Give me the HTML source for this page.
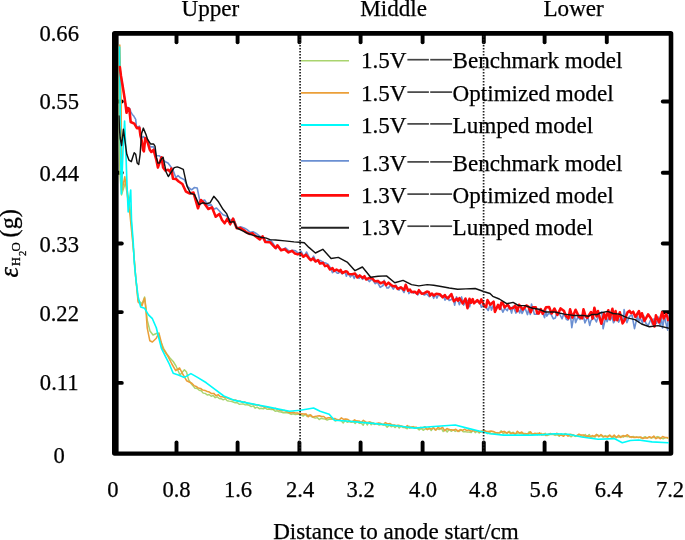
<!DOCTYPE html><html><head><meta charset="utf-8"><style>html,body{margin:0;padding:0;background:#fff;overflow:hidden}svg{display:block;will-change:transform}</style></head><body><svg width="685" height="540" viewBox="0 0 685 540">
<rect width="685" height="540" fill="#fff"/>
<path d="M114.6 31H670.6999999999999A2.6 2.6 0 0 1 673.3 33.6V453.09999999999997A2.6 2.6 0 0 1 670.6999999999999 455.7H114.6A2.6 2.6 0 0 1 112 453.09999999999997V33.6A2.6 2.6 0 0 1 114.6 31ZM118.6 35.7V451.6H668.7V35.7Z" fill="#000" fill-rule="evenodd"/>
<g stroke="#000" stroke-linecap="round" fill="none" stroke-width="3.9">
<line x1="176.5" y1="35" x2="176.5" y2="42.2"/>
<line x1="176.5" y1="452" x2="176.5" y2="442.4"/>
<line x1="237.6" y1="35" x2="237.6" y2="42.2"/>
<line x1="237.6" y1="452" x2="237.6" y2="442.4"/>
<line x1="299.4" y1="35" x2="299.4" y2="42.2"/>
<line x1="299.4" y1="452" x2="299.4" y2="442.4"/>
<line x1="360.6" y1="35" x2="360.6" y2="42.2"/>
<line x1="360.6" y1="452" x2="360.6" y2="442.4"/>
<line x1="422.6" y1="35" x2="422.6" y2="42.2"/>
<line x1="422.6" y1="452" x2="422.6" y2="442.4"/>
<line x1="483.8" y1="35" x2="483.8" y2="42.2"/>
<line x1="483.8" y1="452" x2="483.8" y2="442.4"/>
<line x1="544.6" y1="35" x2="544.6" y2="42.2"/>
<line x1="544.6" y1="452" x2="544.6" y2="442.4"/>
<line x1="606.8" y1="35" x2="606.8" y2="42.2"/>
<line x1="606.8" y1="452" x2="606.8" y2="442.4"/>
<line x1="118" y1="101.5" x2="121.8" y2="101.5"/>
<line x1="669" y1="101.5" x2="662.8" y2="101.5"/>
<line x1="118" y1="172.7" x2="121.8" y2="172.7"/>
<line x1="669" y1="172.7" x2="662.8" y2="172.7"/>
<line x1="118" y1="243.5" x2="121.8" y2="243.5"/>
<line x1="669" y1="243.5" x2="662.8" y2="243.5"/>
<line x1="118" y1="312.1" x2="121.8" y2="312.1"/>
<line x1="669" y1="312.1" x2="662.8" y2="312.1"/>
<line x1="118" y1="382.9" x2="121.8" y2="382.9"/>
<line x1="669" y1="382.9" x2="662.8" y2="382.9"/>
</g>
<defs><clipPath id="pc"><rect x="118.3" y="35.5" width="550.6" height="416.3"/></clipPath></defs>
<g fill="none" stroke-linejoin="round" stroke-linecap="round" clip-path="url(#pc)">
<path d="M119.3 46.0L119.0 100.0L119.3 150.0L120.0 175.0L121.5 195.0L125.7 181.7L129.8 205.0L132.0 230.0L133.5 250.0L135.6 276.0L138.1 300.0L142.0 304.0L144.6 297.0L145.9 307.0L147.2 320.0L150.0 331.0L153.0 335.0L157.6 333.0L160.0 340.0L164.0 349.0L166.7 353.7L170.0 358.0L173.2 361.5L176.0 366.0L180.0 375.0L184.4 369.7L186.5 372.0L188.7 380.0L191.2 383.7L193.2 386.1L195.2 388.4L197.2 388.5L199.2 390.3L201.2 390.7L203.2 393.1L205.2 393.4L207.2 395.0L209.2 394.5L211.2 396.3L213.2 395.4L215.2 397.7L217.2 396.8L219.2 398.5L221.2 398.7L223.2 399.8L225.2 398.8L227.2 400.7L229.2 401.1L231.2 401.4L233.2 402.0L235.2 402.8L237.2 402.7L239.2 404.3L241.2 404.1L243.2 403.9L245.2 404.9L247.2 404.8L249.2 405.3L251.2 406.6L253.2 405.8L255.2 408.2L257.2 407.2L259.2 408.7L261.2 408.2L263.2 408.9L265.2 408.0L267.2 409.3L269.2 409.1L271.2 409.6L273.2 409.6L275.2 411.3L277.2 410.8L279.2 411.9L281.2 412.0L283.2 412.7L285.2 412.5L287.2 412.8L289.2 413.4L291.2 414.4L293.2 413.7L295.2 414.5L297.2 414.3L299.2 414.3L301.2 414.6L303.2 416.1L305.2 414.3L307.2 416.6L309.2 414.8L311.2 416.5L313.2 417.4L315.2 418.1L317.2 417.6L319.2 419.6L321.2 418.2L323.2 418.8L325.2 419.0L327.2 420.1L329.2 419.1L331.2 419.3L333.2 418.5L335.2 421.0L337.2 420.0L339.2 420.4L341.2 420.8L343.2 423.0L345.2 420.3L347.2 422.3L349.2 421.5L351.2 422.3L353.2 421.4L355.2 423.5L357.2 421.0L359.2 423.4L361.2 423.1L363.2 425.2L365.2 421.5L367.2 425.0L369.2 421.9L371.2 424.8L373.2 422.8L375.2 423.9L377.2 423.8L379.2 425.1L381.2 424.3L383.2 424.9L385.2 424.9L387.2 427.2L389.2 425.2L391.2 426.8L393.2 425.8L395.2 427.6L397.2 425.3L399.2 428.1L401.2 426.1L403.2 427.6L405.2 427.4L407.2 428.8L409.2 426.3L411.2 427.7L413.2 426.5L415.2 428.3L417.2 428.2L419.2 430.0L421.2 428.5L423.2 430.3L425.2 428.8L427.2 429.4L429.2 427.6L431.2 430.6L433.2 427.5L435.2 430.0L437.2 428.5L439.2 429.6L441.2 428.0L443.2 431.6L445.2 429.5L447.2 432.0L449.2 429.3L451.2 431.3L453.2 429.8L455.2 431.4L457.2 430.4L459.2 431.5L461.2 429.8L463.2 431.8L465.2 431.6L467.2 432.1L469.2 432.0L471.2 432.6L473.2 429.8L475.2 432.7L477.2 431.1L479.2 433.0L481.2 430.9L483.2 431.6L485.2 430.9L487.2 433.7L489.2 432.1L491.2 433.6L493.2 433.3L495.2 433.4L497.2 432.6L499.2 432.9L501.2 430.8L503.2 433.7L505.2 432.3L507.2 433.5L509.2 431.2L511.2 433.3L513.2 432.2L515.2 433.9L517.2 433.3L519.2 432.9L521.2 433.7L523.2 433.5L525.2 433.4L527.2 434.5L529.2 431.8L531.2 434.1L533.2 433.7L535.2 434.1L537.2 433.2L539.2 434.7L541.2 433.3L543.2 434.9L545.2 433.2L547.2 435.5L549.2 434.8L551.2 434.4L553.2 434.4L555.2 435.4L557.2 434.7L559.2 436.2L561.2 433.8L563.2 435.5L565.2 433.5L567.2 434.9L569.2 435.7L571.2 436.8L573.2 435.2L575.2 436.4L577.2 435.4L579.2 436.2L581.2 435.5L583.2 436.9L585.2 434.4L587.2 436.8L589.2 434.5L591.2 437.6L593.2 436.6L595.2 437.0L597.2 434.7L599.2 435.9L601.2 435.7L603.2 437.3L605.2 435.6L607.2 436.4L609.2 435.4L611.2 436.9L613.2 437.2L615.2 436.5L617.2 436.9L619.2 437.2L621.2 436.1L623.2 437.2L625.2 435.7L627.2 436.8L629.2 436.3L631.2 437.5L633.2 436.4L635.2 437.6L637.2 437.2L639.2 437.2L641.2 438.1L643.2 437.6L645.2 436.7L647.2 438.1L649.2 437.3L651.2 438.2L653.2 437.2L655.2 437.8L657.2 436.6L659.2 437.2L661.2 438.1L663.2 438.8L665.2 437.6L667.2 437.9L668.0 438.2" stroke="#a9d46e" stroke-width="1.45"/>
<path d="M119.8 45.0L121.1 100.0L121.5 150.0L121.8 170.0L122.2 190.0L124.8 176.7L126.0 186.0L128.0 200.0L130.0 215.0L132.0 235.0L133.5 250.0L135.6 276.0L138.1 301.9L142.0 305.7L144.6 298.0L145.9 309.6L147.2 327.8L149.8 340.7L152.4 342.0L156.3 338.2L158.9 333.0L162.8 348.5L168.0 356.3L171.9 364.0L175.7 370.6L179.6 368.0L182.2 373.2L186.6 380.7L191.8 383.2L194.0 385.6L196.2 386.5L198.4 388.1L200.6 388.5L202.8 390.1L205.0 390.4L207.2 391.5L209.4 392.1L211.6 393.6L213.8 393.4L216.0 395.7L218.2 394.6L220.4 396.8L222.6 396.7L224.8 397.4L227.0 397.7L229.2 398.8L231.4 399.4L233.6 399.9L235.8 400.1L238.0 401.5L240.2 401.1L242.4 402.4L244.6 401.9L246.8 403.2L249.0 403.5L251.2 404.0L253.4 404.3L255.6 405.1L257.8 404.7L260.0 405.7L262.2 406.1L264.4 407.2L266.6 406.8L268.8 407.9L271.0 407.8L273.2 409.3L275.4 408.4L277.6 409.6L279.8 410.2L282.0 410.7L284.2 410.4L286.4 411.4L288.6 412.2L290.8 412.9L293.0 412.2L295.2 413.0L297.4 412.9L299.6 414.0L301.8 413.7L304.0 414.1L306.2 414.1L308.4 416.7L310.6 414.9L312.8 417.0L315.0 416.4L317.2 416.1L319.4 415.7L321.6 416.5L323.8 416.5L326.0 418.5L328.2 417.8L330.4 417.7L332.6 419.0L334.8 418.5L337.0 419.6L339.2 420.0L341.4 417.9L343.6 419.3L345.8 418.9L348.0 419.6L350.2 421.2L352.4 421.7L354.6 419.8L356.8 421.1L359.0 421.0L361.2 422.3L363.4 420.4L365.6 422.1L367.8 422.4L370.0 422.1L372.2 422.9L374.4 424.4L376.6 423.4L378.8 422.9L381.0 423.6L383.2 424.7L385.4 422.6L387.6 423.9L389.8 423.5L392.0 425.0L394.2 424.9L396.4 425.8L398.6 425.2L400.8 425.9L403.0 426.6L405.2 427.6L407.4 425.5L409.6 427.9L411.8 427.1L414.0 427.2L416.2 427.3L418.4 428.5L420.6 427.5L422.8 428.0L425.0 426.7L427.2 429.6L429.4 428.6L431.6 428.9L433.8 428.1L436.0 430.1L438.2 427.3L440.4 428.8L442.6 427.3L444.8 430.8L447.0 428.5L449.2 429.7L451.4 429.7L453.6 430.2L455.8 429.3L458.0 431.4L460.2 429.6L462.4 430.5L464.6 429.2L466.8 430.7L469.0 429.8L471.2 431.3L473.4 430.5L475.6 431.0L477.8 430.9L480.0 432.3L482.2 431.3L484.4 430.6L486.6 431.4L488.8 431.6L491.0 431.1L493.2 431.4L495.4 432.5L497.6 433.1L499.8 432.8L502.0 431.8L504.2 431.4L506.4 433.0L508.6 432.0L510.8 433.7L513.0 432.8L515.2 434.4L517.4 431.2L519.6 433.2L521.8 432.0L524.0 434.5L526.2 433.7L528.4 434.1L530.6 431.9L532.8 434.7L535.0 433.2L537.2 434.7L539.4 432.7L541.6 434.9L543.8 434.1L546.0 435.5L548.2 434.2L550.4 433.6L552.6 434.2L554.8 434.4L557.0 433.3L559.2 435.4L561.4 435.0L563.6 436.3L565.8 434.1L568.0 436.1L570.2 434.2L572.4 434.8L574.6 435.5L576.8 435.7L579.0 434.1L581.2 435.1L583.4 434.9L585.6 436.5L587.8 436.0L590.0 436.9L592.2 435.6L594.4 436.4L596.6 434.4L598.8 436.8L601.0 434.6L603.2 436.4L605.4 436.5L607.6 437.1L609.8 435.0L612.0 437.1L614.2 435.1L616.4 437.7L618.6 435.3L620.8 437.5L623.0 435.6L625.2 436.4L627.4 434.7L629.6 436.9L631.8 436.8L634.0 437.4L636.2 436.9L638.4 437.6L640.6 437.0L642.8 438.5L645.0 437.8L647.2 438.0L649.4 436.7L651.6 437.8L653.8 436.1L656.0 438.7L658.2 437.4L660.4 438.8L662.6 436.5L664.8 437.5L667.0 437.5L668.0 438.0" stroke="#eb9f38" stroke-width="1.55"/>
<path d="M119.6 47.0L120.1 100.0L120.6 150.0L121.4 194.0L123.0 150.0L124.6 121.0L125.8 150.0L127.0 185.0L128.2 212.0L130.7 190.0L131.5 220.0L133.2 242.0L134.3 263.0L136.1 281.0L138.1 296.7L140.7 307.0L144.6 308.3L148.5 314.8L152.4 318.7L156.3 327.8L158.9 338.2L161.5 348.5L165.4 356.3L169.3 364.0L173.2 373.2L178.3 375.0L184.4 377.4L190.9 373.6L197.5 377.4L206.3 382.8L215.0 389.4L223.8 396.0L234.7 400.4L245.7 402.6L256.6 404.7L267.6 406.9L278.5 409.1L289.5 411.3L300.4 410.2L313.6 408.0L320.1 411.3L329.2 414.2L334.5 420.2L346.3 421.0L372.5 423.4L398.8 426.0L414.6 428.1L430.4 426.8L455.3 425.0L467.1 428.1L482.9 432.0L490.0 433.8L503.5 435.1L530.5 435.1L544.0 434.6L554.8 433.8L568.3 434.3L581.8 437.0L598.0 439.2L614.2 438.6L622.3 442.7L630.4 440.5L638.5 440.0L652.0 441.9L668.2 442.7" stroke="#00fafa" stroke-width="1.65"/>
<path d="M119.8 67.0L121.0 76.0L122.5 85.0L124.0 94.3L125.4 103.5L126.6 107.5L128.0 107.5L129.6 108.5L131.0 112.0L132.3 114.5L133.5 115.7L135.7 119.4L136.6 128.0L137.9 126.9L139.4 126.1L141.6 138.0L143.5 136.5L145.3 139.4L147.6 142.4L150.5 146.9L153.5 146.9L156.4 155.7L159.4 155.7L163.1 160.2L165.3 161.7L168.0 163.0L171.0 167.0L173.0 170.0L175.9 177.8L178.0 175.5L180.5 177.8L184.2 179.6L188.0 187.0L191.6 189.8L194.5 187.5L197.2 188.0L200.0 201.8L204.6 200.0L208.3 205.6L211.0 204.5L213.8 209.3L216.5 208.0L219.4 211.0L223.0 214.8L226.5 216.0L230.5 220.4L233.6 218.6L237.3 228.2L240.6 226.8L244.6 228.3L247.1 229.6L250.2 232.3L253.1 231.8L255.8 233.2L260.4 236.6L263.2 236.9L266.0 241.4L270.6 240.1L273.1 243.4L276.2 248.6L278.0 245.5L281.6 250.3L285.4 247.8L289.1 251.2L292.6 250.3L295.6 250.8L298.4 253.4L301.1 251.3L303.9 256.8L306.6 252.0L309.1 257.3L311.3 260.3L313.6 256.2L316.1 261.8L318.6 260.3L320.6 260.6L323.6 262.4L325.6 263.1L328.0 264.2L330.6 268.1L332.5 272.6L334.9 270.7L337.3 273.2L338.6 273.1L339.8 271.0L342.2 274.0L344.9 271.4L346.4 276.3L347.9 272.4L350.3 277.0L352.3 274.2L354.2 278.4L355.9 274.6L357.1 274.9L359.0 278.4L360.7 276.4L362.5 279.3L364.6 277.3L367.0 278.9L369.3 281.6L371.9 279.1L372.9 280.2L375.3 283.7L377.4 282.2L380.2 287.4L383.1 285.5L384.2 280.2L386.9 287.9L388.4 288.0L390.7 285.1L393.3 289.1L396.0 285.1L398.9 290.2L401.2 287.8L404.0 292.5L406.0 286.6L407.5 288.7L408.9 293.6L410.9 291.3L413.5 293.2L415.4 291.9L417.8 294.9L419.1 292.8L422.1 292.7L424.1 295.1L426.8 293.9L429.3 296.7L431.9 294.0L433.7 298.3L435.0 294.0L436.9 298.1L438.6 294.5L440.5 296.0L443.5 296.1L445.1 300.1L447.8 296.9L449.1 300.4L451.4 299.4L453.1 297.1L454.6 305.2L456.5 296.8L459.4 304.8L461.6 296.9L463.6 305.1L466.3 300.7L468.3 300.4L469.6 306.8L470.9 301.3L473.4 301.6L475.4 301.7L476.8 302.0L479.8 301.9L481.4 307.2L484.0 304.8L485.7 307.0L488.2 310.5L490.3 303.9L491.4 310.1L493.9 304.0L495.5 310.3L497.4 306.2L499.9 305.4L502.9 312.2L504.9 308.2L507.3 310.7L509.3 305.8L511.6 313.1L513.0 306.2L516.0 313.1L517.4 307.6L519.7 313.0L520.9 308.9L522.1 313.5L524.9 307.7L527.5 314.6L528.7 309.2L530.3 314.5L531.5 304.0L534.4 314.2L537.1 314.3L539.7 309.2L542.2 311.5L544.6 317.6L545.7 310.1L546.8 316.1L548.5 313.5L550.7 313.7L553.4 318.9L555.3 318.0L556.8 312.9L559.1 313.0L562.1 318.8L564.1 312.8L566.3 319.2L567.9 320.1L570.4 314.7L571.8 327.6L574.2 313.7L575.6 322.6L578.0 316.7L580.1 319.5L582.8 313.8L584.9 322.9L587.8 316.7L589.7 325.4L590.8 321.0L593.8 317.0L596.4 322.0L599.1 313.8L601.8 311.9L603.1 328.7L605.9 316.8L607.1 321.7L608.7 317.7L610.1 320.4L612.1 316.7L613.5 322.8L615.0 320.4L617.2 316.3L618.6 322.1L620.6 318.2L623.0 321.9L624.1 309.6L626.9 322.6L629.4 316.4L632.0 315.0L634.5 328.6L637.4 316.0L638.8 321.7L640.0 317.6L642.5 323.1L643.6 315.8L645.9 323.2L648.2 325.5L651.1 318.7L652.3 324.1L654.0 318.8L656.6 323.3L658.3 317.0L660.0 325.8L661.4 316.4L662.5 328.0L664.6 316.2L665.7 322.2L667.7 330.1L668.0 314.9" stroke="#6a8fd2" stroke-width="1.6"/>
<path d="M119.8 67.0L121.0 76.0L122.5 85.0L124.0 94.3L125.4 103.5L126.5 112.8L127.9 108.1L129.3 109.0L130.7 122.0L134.3 123.7L136.9 128.2L139.4 127.7L140.4 135.4L141.6 140.0L143.1 149.8L143.9 151.3L144.5 145.5L145.3 138.0L146.8 139.4L149.8 149.8L151.3 152.0L153.5 149.8L154.6 153.7L156.4 160.2L157.9 167.6L159.4 163.1L161.6 157.2L163.1 167.6L165.3 170.6L168.3 169.8L170.5 172.0L171.3 168.5L173.0 178.7L176.0 179.0L178.7 181.5L182.4 184.0L186.0 191.7L189.8 193.5L193.5 192.6L198.0 208.3L200.9 200.0L204.6 203.7L208.3 209.0L212.0 207.4L215.7 216.7L219.4 213.9L222.0 220.0L224.6 223.3L227.4 218.7L230.2 224.3L233.0 218.7L236.7 228.3L240.0 227.9L244.0 230.3L246.5 232.4L249.6 233.9L252.5 233.3L255.2 236.0L259.8 239.5L262.6 236.3L265.4 242.1L270.0 242.2L272.5 244.8L275.6 248.1L277.4 245.3L281.0 250.3L284.8 249.3L288.5 252.4L292.0 250.9L295.0 253.5L297.8 254.4L300.5 253.3L303.3 256.7L306.0 254.7L308.5 257.8L310.7 260.2L313.0 258.4L315.5 261.5L318.0 260.1L320.0 263.6L323.0 262.9L325.0 266.1L327.4 265.4L330.0 269.5L332.5 268.1L334.1 270.8L336.5 269.5L339.3 271.3L340.6 269.9L342.2 273.0L345.7 271.3L347.2 271.7L348.7 274.1L352.3 274.2L355.1 273.5L357.2 277.5L359.7 275.4L362.6 277.9L364.5 276.2L366.1 279.5L369.3 277.9L372.2 278.2L374.7 281.2L377.9 280.9L380.5 283.3L384.1 281.7L385.9 285.1L388.5 282.7L390.9 284.8L393.0 286.3L395.7 286.1L397.6 288.9L400.8 287.3L404.1 290.0L405.7 284.8L408.1 290.7L410.0 289.6L411.5 292.1L414.9 291.7L417.2 293.8L418.9 290.2L421.7 293.8L423.5 293.6L426.9 291.6L428.7 291.9L430.1 295.5L431.8 293.5L433.9 295.6L436.3 293.7L439.8 294.2L442.7 297.3L444.8 295.0L446.1 297.1L447.8 298.4L451.4 294.1L453.8 301.2L456.7 298.7L458.1 300.7L459.5 298.1L462.8 303.5L465.5 298.5L467.5 308.3L469.5 298.7L471.0 302.8L472.7 299.1L474.0 303.3L477.3 300.1L479.7 303.3L481.3 299.4L484.3 306.1L486.1 307.1L487.5 300.1L490.2 304.7L493.6 301.6L494.9 311.9L498.1 304.8L499.9 309.0L501.4 302.6L502.7 302.7L504.6 307.4L507.7 304.6L510.1 308.6L513.4 307.8L515.2 305.5L517.3 311.2L519.1 304.7L522.8 309.6L526.3 305.5L528.4 306.6L530.7 312.2L532.7 307.2L535.8 307.2L537.2 313.3L538.6 313.6L540.8 309.1L542.7 313.8L546.0 307.3L549.1 307.0L551.6 313.5L554.5 308.5L557.4 315.0L560.6 308.4L564.1 311.1L565.7 315.6L568.5 318.4L570.1 309.3L572.4 317.6L575.6 309.7L579.0 316.9L582.1 318.4L583.5 309.3L585.6 316.2L587.3 317.7L591.0 312.0L592.6 318.6L594.4 307.7L596.6 316.4L598.0 311.1L601.3 323.8L604.1 313.6L605.8 318.8L608.3 310.2L609.7 318.8L612.4 308.8L614.3 320.1L615.6 311.1L617.2 320.3L619.8 312.3L622.6 323.4L624.6 320.2L627.5 312.4L629.6 310.9L631.1 313.2L633.2 311.7L635.4 317.0L638.9 311.1L640.4 317.4L641.9 313.2L644.5 321.0L648.1 314.3L651.5 319.2L654.5 326.5L655.9 315.3L659.1 322.4L662.1 312.4L663.7 318.4L666.1 314.1L667.4 317.0L668.0 320.1" stroke="#ff0a0a" stroke-width="2.55"/>
<path d="M119.0 116.0L119.4 128.0L120.2 138.0L121.6 145.5L123.4 129.3L124.6 138.0L126.8 154.3L129.0 160.2L131.3 161.7L132.7 157.2L134.2 152.8L135.7 154.3L137.2 163.1L138.7 164.6L140.1 154.3L141.6 133.5L143.3 128.1L146.0 134.5L147.6 139.4L150.5 143.9L153.5 143.9L155.0 146.1L156.4 157.2L157.9 163.1L159.4 163.1L161.6 158.7L163.1 157.2L164.6 164.6L166.1 172.0L168.3 176.5L171.3 172.0L174.2 167.6L177.2 166.9L179.4 167.6L183.3 169.4L187.0 186.1L190.7 193.5L194.4 194.4L199.0 204.6L202.7 202.8L206.4 203.7L210.0 202.8L213.8 196.3L218.5 201.8L223.0 209.3L226.8 213.9L230.2 222.4L233.9 221.5L236.7 228.0L242.2 230.7L247.8 233.5L253.3 235.4L260.7 237.2L266.3 238.1L270.0 239.6L275.6 240.0L284.8 240.9L294.0 241.9L299.6 242.2L304.3 242.8L308.9 247.4L315.4 253.0L322.8 249.3L331.1 258.5L338.3 257.4L347.6 262.4L355.0 270.7L362.4 267.0L370.7 277.2L378.1 276.3L386.5 275.9L394.8 282.8L403.1 280.4L411.5 284.6L418.9 285.9L427.2 284.6L433.7 285.2L441.1 286.5L449.3 288.0L457.6 289.3L465.9 288.9L475.2 288.5L484.4 291.7L490.0 293.5L492.8 296.3L499.3 299.0L506.7 303.7L513.1 302.4L518.7 305.6L525.2 305.6L532.6 308.3L539.0 309.3L545.6 312.0L554.8 312.0L564.3 314.1L573.5 315.4L582.8 315.4L588.3 316.3L592.0 314.4L597.6 314.4L600.0 313.0L607.7 311.4L613.1 313.5L619.2 314.1L627.4 317.9L635.0 319.6L641.6 324.0L649.3 326.7L658.0 325.6L669.0 328.3" stroke="#111" stroke-width="1.45"/>
</g>
<g stroke="#222" stroke-width="1.7" stroke-dasharray="1.5 1.5">
<line x1="300.1" y1="36" x2="300.1" y2="452"/>
<line x1="483.6" y1="36" x2="483.6" y2="452"/>
</g>
<g stroke-linecap="butt">
<line x1="301" y1="60.75" x2="349" y2="60.75" stroke="#a9d46e" stroke-width="1.7"/>
<line x1="301" y1="92.9" x2="349" y2="92.9" stroke="#eb9f38" stroke-width="1.8"/>
<line x1="301" y1="125.05" x2="349" y2="125.05" stroke="#00fafa" stroke-width="2.0"/>
<line x1="301" y1="160.9" x2="349" y2="160.9" stroke="#6a8fd2" stroke-width="1.8"/>
<line x1="301" y1="195.4" x2="349" y2="195.4" stroke="#ff0a0a" stroke-width="2.8"/>
<line x1="301" y1="227.8" x2="349" y2="227.8" stroke="#222" stroke-width="1.9"/>
</g>
<g font-family="Liberation Serif" font-size="23.1" stroke="#000" stroke-width="0.25" fill="#000">
<text x="361" y="68.3">1.5V</text>
<text x="452.6" y="68.3">Benchmark model</text>
<text x="361" y="100.7">1.5V</text>
<text x="452.6" y="100.7">Optimized model</text>
<text x="361" y="132.5">1.5V</text>
<text x="452.6" y="132.5">Lumped model</text>
<text x="361" y="170.5">1.3V</text>
<text x="452.6" y="170.5">Benchmark model</text>
<text x="361" y="202.7">1.3V</text>
<text x="452.6" y="202.7">Optimized model</text>
<text x="361" y="234.8">1.3V</text>
<text x="452.6" y="234.8">Lumped model</text>
</g>
<g stroke="#444" stroke-width="1.7">
<line x1="407.4" y1="59.7" x2="428.9" y2="59.7"/>
<line x1="430.2" y1="59.7" x2="452.1" y2="59.7"/>
<line x1="407.4" y1="92.1" x2="428.9" y2="92.1"/>
<line x1="430.2" y1="92.1" x2="452.1" y2="92.1"/>
<line x1="407.4" y1="123.9" x2="428.9" y2="123.9"/>
<line x1="430.2" y1="123.9" x2="452.1" y2="123.9"/>
<line x1="407.4" y1="161.9" x2="428.9" y2="161.9"/>
<line x1="430.2" y1="161.9" x2="452.1" y2="161.9"/>
<line x1="407.4" y1="194.1" x2="428.9" y2="194.1"/>
<line x1="430.2" y1="194.1" x2="452.1" y2="194.1"/>
<line x1="407.4" y1="226.2" x2="428.9" y2="226.2"/>
<line x1="430.2" y1="226.2" x2="452.1" y2="226.2"/>
</g>
<g font-family="Liberation Serif" font-size="22.6" stroke="#000" stroke-width="0.25" fill="#000" text-anchor="middle">
<text x="59.2" y="41.0">0.66</text>
<text x="59.2" y="109.3">0.55</text>
<text x="59.2" y="180.6">0.44</text>
<text x="59.2" y="251.9">0.33</text>
<text x="59.2" y="320.6">0.22</text>
<text x="59.2" y="390.0">0.11</text>
<text x="59.2" y="462.5">0</text>
<text x="112.9" y="496.8">0</text>
<text x="176.5" y="496.8">0.8</text>
<text x="238.0" y="496.8">1.6</text>
<text x="300.2" y="496.8">2.4</text>
<text x="360.6" y="496.8">3.2</text>
<text x="423.0" y="496.8">4.0</text>
<text x="483.2" y="496.8">4.8</text>
<text x="543.6" y="496.8">5.6</text>
<text x="608.8" y="496.8">6.4</text>
<text x="670.0" y="496.8">7.2</text>
</g>
<g font-family="Liberation Serif" font-size="23.1" stroke="#000" stroke-width="0.25" fill="#000">
<text x="181.5" y="16.4">Upper</text>
<text x="360.2" y="16.4">Middle</text>
<text x="543.5" y="16.4">Lower</text>
<text x="273.2" y="538.6">Distance to anode start/cm</text>
</g>
<g transform="translate(17.6,278) rotate(-90)" font-family="Liberation Serif" fill="#000" stroke="#000" stroke-width="0.3">
<text x="0.6" y="0" font-size="26.5" font-style="italic" stroke="#000" stroke-width="0.35">ε</text>
<text x="11.9" y="2.5" font-size="12.2">H</text>
<text x="21.9" y="8.6" font-size="10.6">2</text>
<text x="26.6" y="2.6" font-size="12.8">O</text>
<text x="40.6" y="-1" font-size="24.2">(g)</text>
</g>
</svg></body></html>
